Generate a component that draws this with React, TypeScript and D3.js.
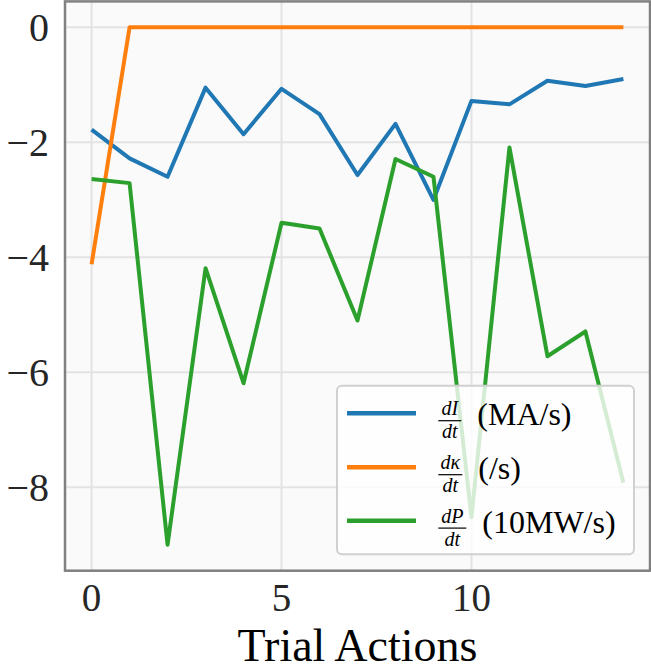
import * as d3 from 'd3';

// trial index 0..14
const trials = d3.range(15);

// dI/dt (MA/s)
const dIdt = [-1.78, -2.28, -2.6, -1.05, -1.86, -1.07, -1.51, -2.57, -1.68, -3.0, -1.28, -1.34, -0.93, -1.02, -0.9];
// dκ/dt (/s)
const dKdt = [-4.12, 0, 0, 0, 0, 0, 0, 0, 0, 0, 0, 0, 0, 0, 0];
// dP/dt (10MW/s)
const dPdt = [-2.64, -2.71, -9.0, -4.19, -6.19, -3.4, -3.5, -5.1, -2.29, -2.6, -8.52, -2.09, -5.72, -5.29, -7.92];

const xTicks = [0, 5, 10];
const yTicks = [0, -2, -4, -6, -8];

const series = [
	{ name: 'I', values: dIdt, color: '#1f77b4', unit: '(MA/s)' },
	{ name: 'κ', values: dKdt, color: '#ff7f0e', unit: '(/s)' },
	{ name: 'P', values: dPdt, color: '#2ca02c', unit: '(10MW/s)' },
];

const W = 651;
const H = 671;
const margin = { top: 1.4, right: 1, bottom: 100.3, left: 65 };
const serif = '"Liberation Serif", "DejaVu Serif", serif';

export default function App() {
	const x0 = margin.left;
	const x1 = W - margin.right;
	const y0 = margin.top;
	const y1 = H - margin.bottom;

	// matplotlib-style 5% padding
	const xExt = d3.extent(trials) as [number, number];
	const xPad = (xExt[1] - xExt[0]) * 0.05;
	const all = [...dIdt, ...dKdt, ...dPdt];
	const yExt = d3.extent(all) as [number, number];
	const yPad = (yExt[1] - yExt[0]) * 0.05;

	const x = d3.scaleLinear().domain([xExt[0] - xPad, xExt[1] + xPad]).range([x0, x1]);
	const y = d3.scaleLinear().domain([yExt[0] - yPad, yExt[1] + yPad]).range([y1, y0]);

	const line = d3
		.line<number>()
		.x((_, i) => x(trials[i]))
		.y((d) => y(d));

	// legend box
	const lg = { x: 337, y: 385.7, w: 297, h: 168.6 };
	const rowY = [413.3, 467.3, 520.7];
	const fracW = [23, 24, 28];

	return (
		<svg width={W} height={H} style={{ position: 'absolute', left: 0, top: 0 }}>
			<rect x={0} y={0} width={W} height={H} fill="#ffffff" />
			<rect x={x0} y={y0} width={x1 - x0} height={y1 - y0} fill="#fafafa" />

			{/* grid */}
			<g stroke="#e3e3e3" strokeWidth={2}>
				{xTicks.map((t) => (
					<line key={'gx' + t} x1={x(t)} x2={x(t)} y1={y0} y2={y1} />
				))}
				{yTicks.map((t) => (
					<line key={'gy' + t} x1={x0} x2={x1} y1={y(t)} y2={y(t)} />
				))}
			</g>

			{/* series */}
			<g fill="none" strokeWidth={4} strokeLinejoin="round">
				{series.map((s) => (
					<path key={s.name} d={line(s.values) ?? ''} stroke={s.color} />
				))}
			</g>

			{/* tick labels */}
			<g fontFamily={serif} fill="#262626">
				{xTicks.map((t) => (
					<text key={'tx' + t} x={x(t)} y={611} fontSize={39} textAnchor="middle">
						{t}
					</text>
				))}
				{yTicks.map((t) => (
					<text key={'ty' + t} x={49} y={y(t) + 14} fontSize={40} textAnchor="end">
						{t === 0 ? '0' : '−' + Math.abs(t)}
					</text>
				))}
			</g>

			<text x={(x0 + x1) / 2} y={660.5} textAnchor="middle" fontFamily={serif} fontSize={46} fill="#000">
				Trial Actions
			</text>

			{/* legend */}
			<rect
				x={lg.x}
				y={lg.y}
				width={lg.w}
				height={lg.h}
				rx={5}
				fill="#ffffff"
				fillOpacity={0.8}
				stroke="#d0d0d0"
				strokeWidth={2}
			/>
			{series.map((s, i) => {
				const ry = rowY[i];
				const bar = ry + 7.4;
				const fx = 438.3;
				return (
					<g key={'lg' + s.name} fontFamily={serif} fill="#000">
						<line x1={347} x2={416} y1={ry} y2={ry} stroke={s.color} strokeWidth={4.5} />
						<text x={fx + fracW[i] / 2} y={bar - 5.5} fontSize={20} fontStyle="italic" textAnchor="middle">
							{'d' + s.name}
						</text>
						<line x1={fx} x2={fx + fracW[i]} y1={bar} y2={bar} stroke="#000" strokeWidth={1.2} />
						<text x={fx + fracW[i] / 2} y={bar + 17.5} fontSize={20} fontStyle="italic" textAnchor="middle">
							dt
						</text>
						<text x={fx + fracW[i] + 16} y={ry + 12} fontSize={32}>
							{s.unit}
						</text>
					</g>
				);
			})}

			{/* frame */}
			<rect x={x0} y={y0} width={x1 - x0} height={y1 - y0} fill="none" stroke="#808080" strokeWidth={2.5} />
		</svg>
	);
}
